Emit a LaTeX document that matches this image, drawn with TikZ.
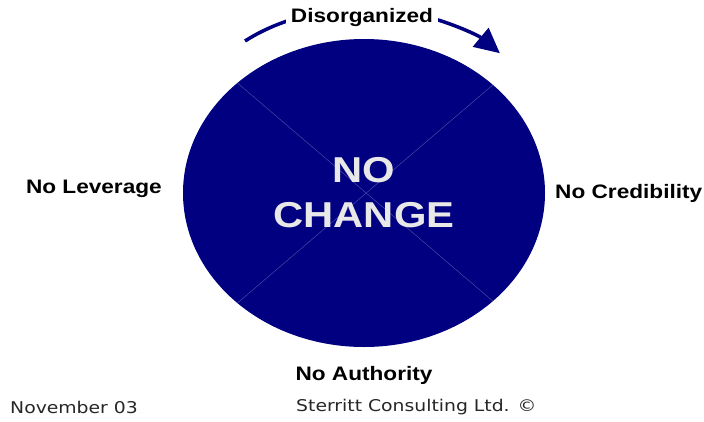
\documentclass[tikz,border=0pt]{standalone}
\usepackage{fontspec}
\setmainfont{Liberation Sans}
\newfontfamily\footfont{DejaVu Sans}
\usepackage{tikz}
\usetikzlibrary{shapes.geometric,arrows.meta,positioning}

\definecolor{navyblue}{RGB}{0,0,128}
\newcommand{\widen}[1]{\scalebox{1.16}[1]{#1}}

\begin{document}
\begin{tikzpicture}[
  x=1pt, y=1pt,
  core/.style={ellipse, fill=navyblue, minimum width=362pt, minimum height=308pt, inner sep=0pt, outer sep=0pt},
  lbl/.style={inner sep=0pt, font=\bfseries\fontsize{19.5}{23}\selectfont},
  foot/.style={inner sep=0pt, anchor=west, text=black!85, font=\footfont\fontsize{16.2}{19}\selectfont},
  divider/.style={draw=blue!35!gray, line width=0.4pt},
  arr/.style={-{Triangle[length=25pt,width=24pt]}, line width=3.5pt, draw=navyblue}
]
  \useasboundingbox (0,0) rectangle (704,-421);

  % the circle and its four sectors
  \node[core] (core) at (364,-193) {};
  \draw[divider] (core.139.8) -- (core.-40.2);
  \draw[divider] (core.40.2) -- (core.-139.8);
  \node[align=center, text=black!9, font=\bfseries\fontsize{36}{45}\selectfont] (nochange) at (core.center) {\widen{NO}\\\widen{CHANGE}};

  % turning arrow over the top
  \coordinate (arcstart) at (245,-41);
  \draw[arr] (arcstart) arc[start angle=131.4, end angle=41, x radius=180, y radius=130];
  \node[lbl, fill=white, inner xsep=5pt, inner ysep=8pt] (disorganized) at (362,-17) {\widen{Disorganized}};

  \node[lbl, left=21pt of core, yshift=4pt] (leverage) {\widen{No Leverage}};
  \node[lbl, right=10pt of core] (credibility) {\widen{No Credibility}};
  \node[lbl, below=19pt of core] (authority) {\widen{No Authority}};

  % footer
  \node[foot] (date) at (10,-407) {\widen{November 03}};
  \node[foot] (owner) at (296,-407) {\widen{Sterritt Consulting Ltd. ©}};
\end{tikzpicture}
\end{document}
